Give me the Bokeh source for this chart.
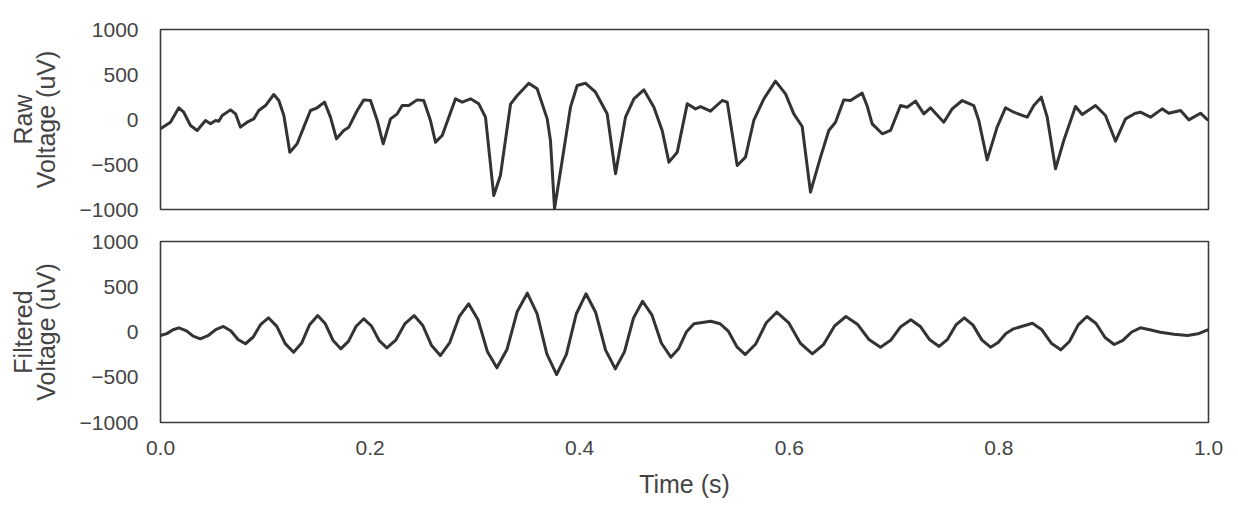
from bokeh.plotting import figure
from bokeh.layouts import column
from bokeh.models import Range1d, FixedTicker
from bokeh.embed import file_html
from bokeh.resources import INLINE

# Raw signal (time in s, voltage in uV)
raw_t = [0.000, 0.0095, 0.0175, 0.0222, 0.0286, 0.0350, 0.0429, 0.0477, 0.0525, 0.0556,
         0.0589, 0.0668, 0.0716, 0.0763, 0.0827, 0.0890, 0.0938, 0.1002, 0.1081, 0.1129,
         0.1177, 0.1234, 0.1304, 0.1367, 0.1431, 0.1495, 0.1565, 0.1622, 0.1679, 0.1749,
         0.1797, 0.1877, 0.1940, 0.2004, 0.2068, 0.2125, 0.2195, 0.2259, 0.2306, 0.2369,
         0.2449, 0.2512, 0.2576, 0.2624, 0.2688, 0.2751, 0.2815, 0.2879, 0.2958, 0.3037,
         0.3101, 0.3180, 0.3244, 0.3340, 0.3404, 0.3514, 0.3594, 0.3690, 0.3721, 0.3760,
         0.3833, 0.3912, 0.3976, 0.4055, 0.4151, 0.4262, 0.4342, 0.4437, 0.4517, 0.4612,
         0.4708, 0.4787, 0.4851, 0.4931, 0.5026, 0.5105, 0.5153, 0.5248, 0.5360, 0.5408,
         0.5503, 0.5582, 0.5661, 0.5757, 0.5868, 0.5964, 0.6043, 0.6123, 0.6202, 0.6298,
         0.6377, 0.6441, 0.6520, 0.6584, 0.6695, 0.6743, 0.6791, 0.6887, 0.6966, 0.7061,
         0.7125, 0.7204, 0.7284, 0.7347, 0.7474, 0.7554, 0.7650, 0.7760, 0.7808, 0.7888,
         0.7983, 0.8063, 0.8142, 0.8270, 0.8333, 0.8404, 0.8461, 0.8540, 0.8619, 0.8731,
         0.8795, 0.8922, 0.9017, 0.9113, 0.9208, 0.9303, 0.9351, 0.9447, 0.9558, 0.9621,
         0.9733, 0.9812, 0.9924, 0.9981, 1.000]
raw_v = [-103, -30, 130, 81, -67, -122, -11, -48, -11, -19,
         44, 107, 63, -85, -30, 7, 100, 155, 278, 211,
         44, -363, -270, -85, 100, 130, 193, 26, -215, -122,
         -85, 100, 218, 211, -11, -270, 7, 63, 155, 155,
         218, 211, -11, -252, -178, 26, 230, 193, 230, 174,
         26, -845, -620, 170, 267, 403, 341, 7, -233, -990,
         -455, 137, 378, 403, 303, 63, -603, 26, 230, 330,
         137, -122, -474, -363, 174, 118, 144, 92, 211, 193,
         -511, -418, -11, 230, 426, 285, 63, -78, -807, -418,
         -122, -30, 218, 211, 293, 150, -48, -159, -122, 155,
         137, 204, 63, 130, -30, 118, 211, 155, -11, -448,
         -85, 130, 81, 26, 155, 248, 26, -548, -233, 144,
         55, 155, 44, -241, 7, 70, 81, 26, 118, 70,
         100, -4, 70, 7, -10]

# Filtered signal (time in s, voltage in uV)
filt_t = [0.000, 0.006, 0.012, 0.0175, 0.0243, 0.0312, 0.038, 0.0453, 0.0527, 0.060,
          0.067, 0.074, 0.081, 0.0883, 0.0957, 0.103, 0.111, 0.119, 0.127, 0.1347,
          0.1423, 0.150, 0.1573, 0.1647, 0.172, 0.1793, 0.1867, 0.194, 0.2013, 0.2087,
          0.216, 0.2247, 0.2333, 0.242, 0.2503, 0.2587, 0.267, 0.276, 0.285, 0.294,
          0.303, 0.312, 0.321, 0.3307, 0.3403, 0.350, 0.3593, 0.3687, 0.378, 0.3873,
          0.3967, 0.406, 0.4153, 0.4247, 0.434, 0.4427, 0.4513, 0.460, 0.469, 0.478,
          0.487, 0.4943, 0.5017, 0.509, 0.525, 0.534, 0.542, 0.550, 0.558, 0.568,
          0.578, 0.588, 0.5993, 0.6107, 0.622, 0.6327, 0.6433, 0.654, 0.665, 0.676,
          0.687, 0.6967, 0.7063, 0.716, 0.725, 0.734, 0.743, 0.751, 0.759, 0.767,
          0.7753, 0.7837, 0.792, 0.7993, 0.8067, 0.814, 0.832, 0.841, 0.850, 0.859,
          0.8673, 0.8757, 0.884, 0.8927, 0.9013, 0.910, 0.9183, 0.9267, 0.935, 0.945,
          0.954, 0.967, 0.980, 0.990, 0.998, 1.000]
filt_v = [-39, -18, 25, 46, 16, -45, -75, -41, 27, 61,
          13, -82, -130, -58, 85, 157, 62, -128, -223, -122,
          81, 182, 90, -94, -186, -103, 63, 146, 66, -95,
          -175, -86, 93, 182, 72, -150, -260, -117, 169, 312,
          135, -219, -396, -190, 223, 429, 204, -245, -470, -247,
          199, 422, 215, -200, -407, -220, 153, 340, 186, -124,
          -278, -186, -1, 91, 119, 91, 6, -164, -249, -132,
          102, 219, 104, -126, -241, -138, 68, 171, 86, -83,
          -168, -92, 59, 135, 61, -86, -160, -81, 78, 157,
          76, -87, -168, -117, -16, 35, 97, 24, -124, -197,
          -105, 79, 171, 94, -61, -138, -92, 0, 46, 22,
          -2, -25, -39, -20, 17, 25]

y_ticks = [-1000, -500, 0, 500, 1000]
y_tick_labels = ["\u22121000", "\u2212500", "0", "500", "1000"]
x_ticks = [0.0, 0.2, 0.4, 0.6, 0.8, 1.0]
x_tick_labels = ["0.0", "0.2", "0.4", "0.6", "0.8", "1.0"]

FONT = "Liberation Sans"
TXT = "#444444"
EDGE = "#3a3a3a"
LINE = "#333333"


def make_fig(frame_h, top, bottom, show_x):
    p = figure(frame_width=1048, frame_height=frame_h,
               output_backend="svg", toolbar_location=None,
               x_range=Range1d(0, 1), y_range=Range1d(-1000, 1000),
               min_border_left=160, min_border_right=30,
               min_border_top=top, min_border_bottom=bottom)
    p.grid.visible = False
    p.outline_line_color = EDGE
    p.outline_line_width = 1.6
    p.background_fill_color = "white"
    p.border_fill_color = "white"
    for ax in (p.xaxis[0], p.yaxis[0]):
        ax.axis_line_color = None
        ax.major_tick_line_color = None
        ax.minor_tick_line_color = None
        ax.major_label_text_font = FONT
        ax.major_label_text_font_size = "21px"
        ax.major_label_text_color = TXT
        ax.axis_label_text_font = FONT
        ax.axis_label_text_font_size = "25px"
        ax.axis_label_text_font_style = "normal"
        ax.axis_label_text_color = TXT
    p.yaxis.ticker = FixedTicker(ticks=y_ticks)
    p.yaxis.major_label_overrides = {t: l for t, l in zip(y_ticks, y_tick_labels)}
    p.yaxis.major_label_standoff = 16
    p.yaxis.axis_label_standoff = 17
    p.yaxis.axis_label_text_line_height = 0.8
    p.xaxis.ticker = FixedTicker(ticks=x_ticks)
    p.xaxis.major_label_overrides = {t: l for t, l in zip(x_ticks, x_tick_labels)}
    p.xaxis.major_label_standoff = 12
    p.xaxis.axis_label_standoff = 12
    if not show_x:
        p.xaxis.visible = False
    return p


p1 = make_fig(180, 29, 16, False)
p1.yaxis.axis_label = "Raw\nVoltage (uV)"
p1.line(raw_t, raw_v, line_width=3, line_color=LINE, line_join="round")

p2 = make_fig(181, 16, 86, True)
p2.yaxis.axis_label = "Filtered\nVoltage (uV)"
p2.xaxis.axis_label = "Time (s)"
p2.line(filt_t, filt_v, line_width=3, line_color=LINE, line_join="round")

layout = column(p1, p2, spacing=0)
open("out.html", "w").write(file_html(layout, INLINE))
